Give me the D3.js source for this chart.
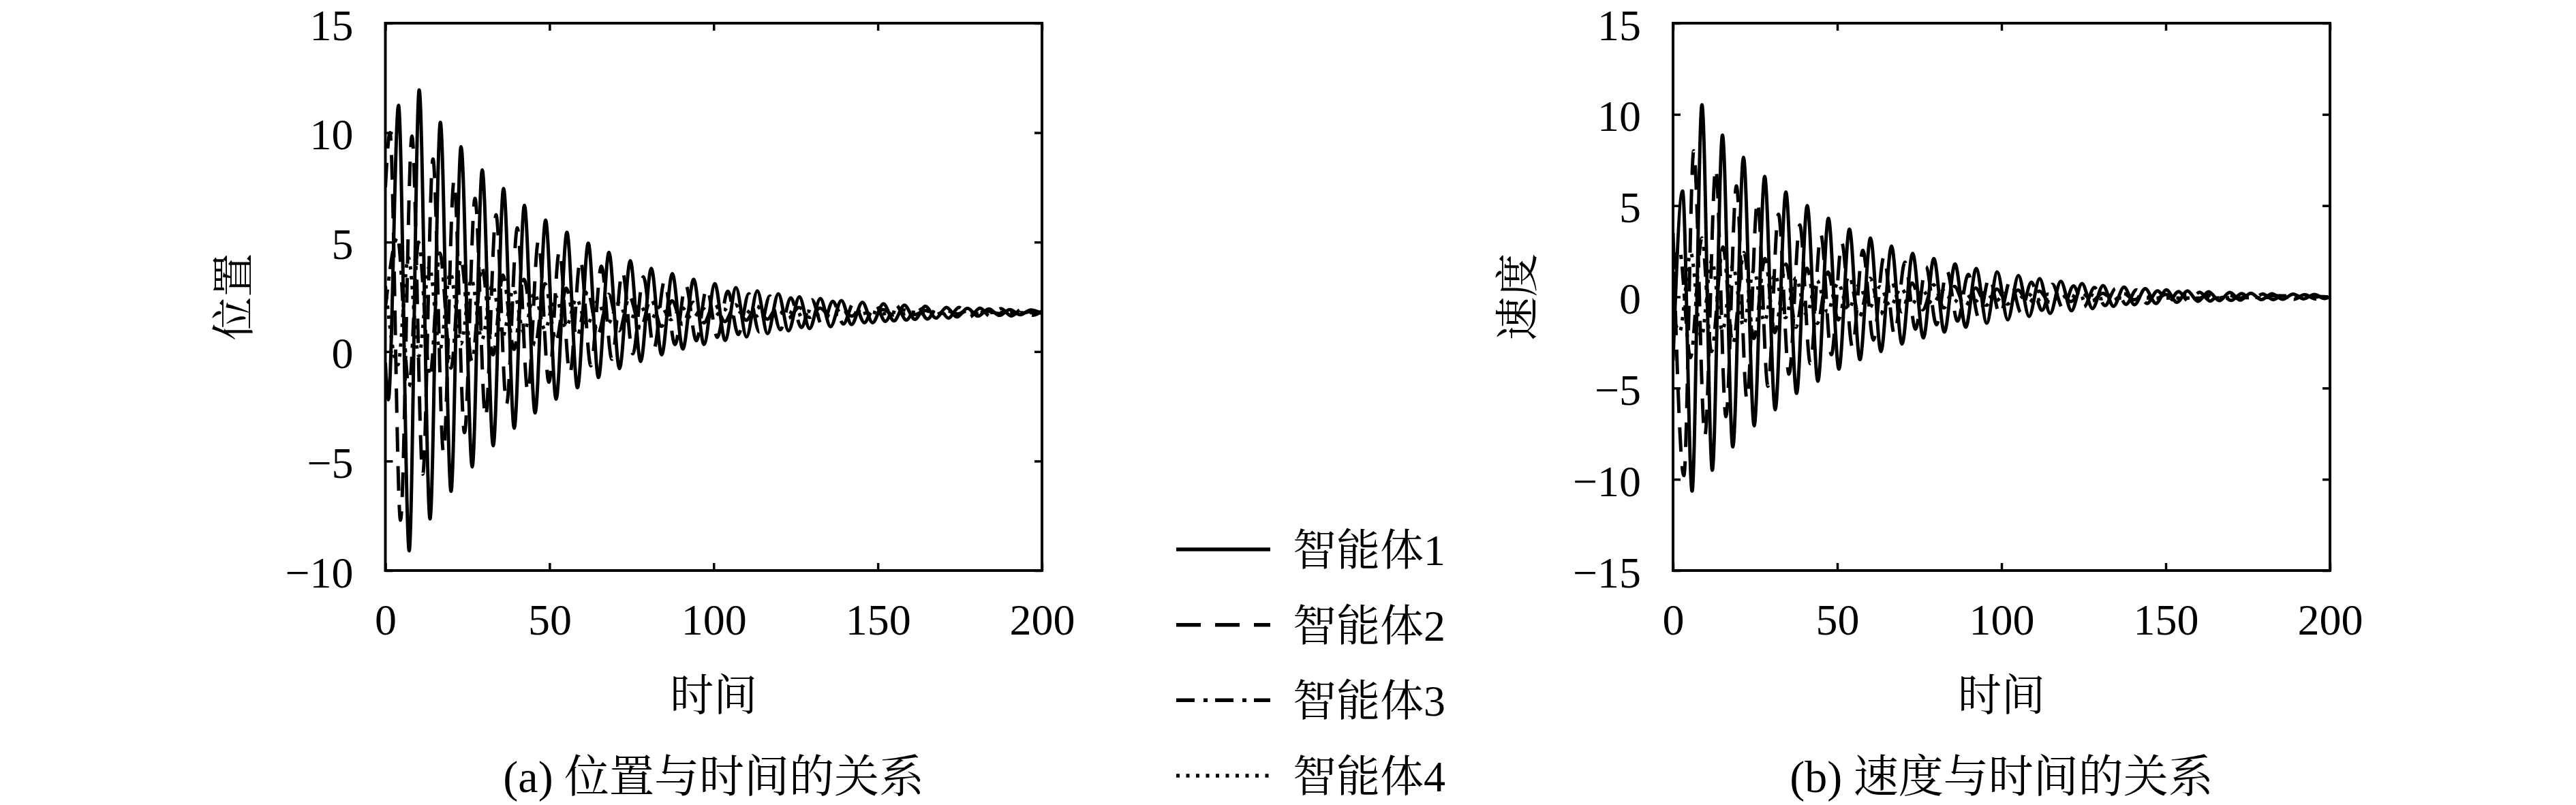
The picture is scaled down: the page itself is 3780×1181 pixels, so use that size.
<!DOCTYPE html>
<html><head><meta charset="utf-8">
<script src="https://cdn.jsdelivr.net/npm/d3@7"></script>
<style>
html,body{margin:0;padding:0;background:#fff;}
svg{display:block;}
</style></head>
<body><svg id="chart" width="3780" height="1181"></svg>
<script>
// ---------- data (extrema of each trace, [time, value]) ----------
const timeTicks = [0, 50, 100, 150, 200];
const posTicks = [-10, -5, 0, 5, 10, 15];
const velTicks = [-15, -10, -5, 0, 5, 10, 15];
const agentNames = ["智能体1", "智能体2", "智能体3", "智能体4"];

const pos1 = [[0,-0.5],[0.9,-2.2],[4.0,11.25],[7.25,-9.1],[10.3,11.95],[13.6,-7.64],[16.75,10.47],[20.0,-6.38],[23.05,9.36],[26.45,-5.27],[29.5,8.3],[32.85,-4.3],[36.0,7.45],[39.25,-3.5],[42.35,6.68],[45.6,-2.8],[48.8,6.0],[52.0,-2.17],[55.3,5.45],[58.5,-1.65],[61.8,4.95],[64.9,-1.18],[68.1,4.53],[71.3,-0.78],[74.6,4.15],[77.75,-0.45],[81.0,3.8],[84.15,-0.15],[87.4,3.56],[90.6,0.12],[93.9,3.3],[97.05,0.33],[100.35,3.1],[103.5,0.51],[106.8,2.92],[110.0,0.67],[113.3,2.77],[116.4,0.82],[119.7,2.64],[122.8,0.95],[126.1,2.5],[129.2,1.05],[132.5,2.42],[135.6,1.14],[138.9,2.33],[142.0,1.24],[145.3,2.25],[148.4,1.32],[151.7,2.18],[154.9,1.4],[158.1,2.12],[161.3,1.47],[164.5,2.07],[167.7,1.53],[170.9,2.02],[174.1,1.58],[177.3,1.98],[180.5,1.62],[183.8,1.95],[187.0,1.65],[190.2,1.92],[193.4,1.68],[196.6,1.9],[200,1.74]];
const pos2 = [[0,7.5],[1.4,10.0],[4.6,-7.7],[8.1,9.85],[11.4,-5.6],[14.5,8.8],[17.7,-4.6],[20.9,7.8],[24.1,-3.7],[27.3,7.0],[30.5,-3.0],[33.7,6.25],[36.9,-2.4],[40.2,5.65],[43.4,-1.85],[46.6,5.05],[49.8,-1.4],[53.0,4.6],[56.2,-1.0],[59.4,4.2],[62.6,-0.65],[65.8,3.9],[69.0,-0.35],[72.2,3.65],[75.4,-0.1],[78.6,3.42],[81.8,0.13],[85.0,3.22],[88.2,0.32],[91.5,3.04],[94.7,0.5],[97.9,2.9],[101.1,0.65],[104.3,2.76],[107.5,0.78],[110.7,2.64],[113.9,0.9],[117.1,2.54],[120.3,1.0],[123.5,2.45],[126.7,1.1],[129.9,2.37],[133.1,1.18],[136.3,2.3],[139.5,1.26],[142.7,2.24],[145.9,1.32],[149.1,2.18],[152.3,1.38],[155.5,2.13],[158.7,1.44],[161.9,2.09],[165.1,1.49],[168.3,2.05],[171.5,1.53],[174.7,2.02],[177.9,1.57],[181.1,1.99],[184.3,1.6],[187.5,1.96],[190.7,1.63],[193.9,1.94],[197.1,1.66],[200,1.85]];
const pos3 = [[0,2.0],[3.7,5.2],[7.2,-1.6],[10.1,5.0],[13.6,-1.1],[16.6,4.5],[20.0,-0.75],[23.0,4.2],[26.4,-0.45],[29.4,3.85],[32.8,-0.15],[35.8,3.5],[39.2,0.1],[42.2,3.3],[45.6,0.3],[48.6,3.1],[52.0,0.5],[55.1,2.9],[58.4,0.68],[61.6,2.75],[64.8,0.82],[68.0,2.62],[71.2,0.95],[74.4,2.5],[77.7,1.06],[80.9,2.4],[84.1,1.15],[87.3,2.32],[90.5,1.24],[93.7,2.25],[97.0,1.31],[100.2,2.19],[103.4,1.37],[106.6,2.14],[109.9,1.43],[113.1,2.09],[116.3,1.48],[119.5,2.05],[122.7,1.52],[126.0,2.02],[129.2,1.56],[132.4,1.99],[135.6,1.59],[138.8,1.96],[142.0,1.62],[145.2,1.94],[148.4,1.65],[151.6,1.92],[154.8,1.67],[158.0,1.9],[161.3,1.69],[164.5,1.88],[167.7,1.7],[170.9,1.87],[174.1,1.72],[177.3,1.85],[180.5,1.73],[183.7,1.84],[187.0,1.74],[190.2,1.83],[193.4,1.75],[196.6,1.82],[200,1.76]];
const pos4 = [[0,3.0],[3.8,-0.6],[7.0,4.3],[10.2,-0.2],[13.4,3.9],[16.6,0.1],[19.8,3.6],[23.0,0.35],[26.2,3.3],[29.4,0.55],[32.6,3.05],[35.8,0.72],[39.0,2.85],[42.2,0.87],[45.4,2.68],[48.6,1.0],[51.8,2.53],[55.0,1.1],[58.2,2.41],[61.4,1.2],[64.6,2.3],[67.8,1.28],[71.0,2.21],[74.2,1.35],[77.4,2.14],[80.6,1.41],[83.8,2.08],[87.0,1.46],[90.2,2.03],[93.4,1.5],[96.6,1.98],[99.8,1.54],[103.0,1.95],[106.2,1.57],[109.4,1.92],[112.6,1.6],[115.8,1.89],[119.0,1.63],[122.2,1.87],[125.4,1.65],[128.6,1.85],[131.8,1.67],[135.0,1.84],[138.2,1.69],[141.4,1.83],[144.6,1.7],[147.8,1.82],[151.0,1.71],[154.2,1.81],[157.4,1.72],[160.6,1.8],[163.8,1.73],[167.0,1.8],[170.2,1.74],[173.4,1.79],[200,1.77]];

const vel1 = [[0,-3.5],[2.9,5.8],[5.8,-10.65],[8.8,10.53],[11.95,-9.5],[15.05,8.86],[18.2,-8.23],[21.45,7.65],[24.7,-7.07],[27.9,6.6],[31.1,-6.18],[34.35,5.74],[37.6,-5.29],[40.85,5.0],[44.1,-4.62],[47.3,4.31],[50.5,-3.96],[53.7,3.71],[56.9,-3.44],[60.1,3.22],[63.3,-3.0],[66.5,2.78],[69.7,-2.59],[72.95,2.38],[76.2,-2.25],[79.4,2.1],[82.6,-1.93],[85.85,1.8],[89.1,-1.66],[92.3,1.55],[95.5,-1.44],[98.7,1.36],[101.9,-1.26],[105.15,1.17],[108.4,-1.07],[111.6,1.0],[114.8,-0.91],[118.05,0.85],[121.3,-0.76],[124.5,0.73],[127.7,-0.64],[130.9,0.62],[134.1,-0.52],[137.3,0.53],[140.5,-0.43],[143.75,0.45],[147.0,-0.36],[150.2,0.38],[153.4,-0.3],[156.6,0.33],[159.8,-0.25],[163.05,0.28],[166.3,-0.21],[169.5,0.24],[172.7,-0.18],[175.9,0.2],[179.1,-0.15],[182.35,0.17],[185.6,-0.13],[188.8,0.15],[192.0,-0.11],[195.2,0.13],[198.4,-0.09],[200,0.0]];
const vel2 = [[0,3.5],[3.3,-9.8],[6.3,8.0],[9.7,-7.6],[13.0,7.05],[16.1,-6.57],[19.3,6.08],[22.5,-5.63],[25.7,5.24],[28.9,-4.9],[32.1,4.53],[35.3,-4.24],[38.6,3.94],[41.8,-3.66],[45.0,3.41],[48.2,-3.17],[51.4,2.95],[54.6,-2.74],[57.8,2.55],[61.0,-2.37],[64.2,2.2],[67.4,-2.05],[70.6,1.91],[73.8,-1.77],[77.0,1.65],[80.2,-1.53],[83.4,1.43],[86.6,-1.33],[89.9,1.23],[93.1,-1.15],[96.3,1.07],[99.5,-0.99],[102.7,0.92],[105.9,-0.86],[109.1,0.8],[112.3,-0.74],[115.5,0.69],[118.7,-0.64],[121.9,0.6],[125.1,-0.55],[128.3,0.51],[131.5,-0.48],[134.7,0.45],[137.9,-0.41],[141.1,0.38],[144.3,-0.36],[147.5,0.33],[150.7,-0.31],[153.9,0.29],[157.1,-0.27],[160.3,0.25],[163.5,-0.23],[166.7,0.21],[169.9,-0.2],[173.1,0.18],[176.3,-0.17],[179.5,0.16],[182.7,-0.15],[185.9,0.14],[189.1,-0.13],[192.3,0.12],[195.5,-0.11],[198.7,0.1],[200,0.02]];
const vel3 = [[0,1.5],[1.9,2.6],[5.3,-3.33],[8.8,3.23],[11.7,-3.0],[15.2,2.74],[18.2,-2.57],[21.6,2.43],[24.6,-2.28],[28.0,2.1],[31.0,-1.96],[34.4,1.79],[37.4,-1.67],[40.8,1.57],[43.9,-1.46],[47.2,1.36],[50.3,-1.26],[53.6,1.17],[56.7,-1.09],[60.0,1.02],[63.2,-0.95],[66.4,0.88],[69.6,-0.82],[72.8,0.76],[76.0,-0.71],[79.3,0.66],[82.5,-0.61],[85.7,0.57],[88.9,-0.53],[92.1,0.49],[95.4,-0.46],[98.6,0.43],[101.8,-0.4],[105.0,0.37],[108.2,-0.34],[111.5,0.32],[114.7,-0.3],[117.9,0.28],[121.1,-0.26],[124.3,0.24],[127.6,-0.22],[130.8,0.2],[134.0,-0.19],[137.2,0.18],[140.4,-0.16],[143.6,0.15],[146.8,-0.14],[150.0,0.13],[153.2,-0.12],[156.4,0.11],[159.6,-0.1],[162.8,0.09],[166.0,-0.08],[169.2,0.08],[172.4,-0.07],[175.6,0.07],[178.8,-0.06],[182.0,0.06],[200,0.0]];
const vel4 = [[0,-1.0],[2.0,-1.9],[5.4,2.4],[8.6,-2.2],[11.8,2.0],[15.0,-1.86],[18.2,1.72],[21.4,-1.59],[24.6,1.45],[27.8,-1.35],[31.0,1.23],[34.2,-1.14],[37.4,1.04],[40.6,-0.97],[43.8,0.9],[47.0,-0.83],[50.2,0.76],[53.4,-0.7],[56.6,0.65],[59.8,-0.6],[63.0,0.55],[66.2,-0.51],[69.4,0.47],[72.6,-0.43],[75.8,0.4],[79.0,-0.37],[82.2,0.34],[85.4,-0.31],[88.6,0.29],[91.8,-0.27],[95.0,0.25],[98.2,-0.23],[101.4,0.21],[104.6,-0.19],[107.8,0.18],[111.0,-0.16],[114.2,0.15],[117.4,-0.14],[120.6,0.13],[123.8,-0.12],[127.0,0.11],[130.2,-0.1],[133.4,0.09],[136.6,-0.08],[139.8,0.08],[143.0,-0.07],[200,0.0]];

const posSeries = [pos1, pos2, pos3, pos4];
const velSeries = [vel1, vel2, vel3, vel4];

// ---------- drawing ----------
const svg = d3.select("#chart");
const FONT = "'Liberation Serif', 'Noto Serif CJK SC', 'Noto Sans CJK SC', serif";
const dashes = [null, "36,21", "27,13,6,11", "5,9.5"];
const LW = 5;

const panels = [
  {id:"a", left:565.5, right:1529, top:34, bottom:837, yDomain:[-10,15], yTicks:posTicks,
   series:posSeries, ylabel:"位置", ylabelX:343, caption:"(a) 位置与时间的关系"},
  {id:"b", left:2455, right:3419, top:34, bottom:837, yDomain:[-15,15], yTicks:velTicks,
   series:velSeries, ylabel:"速度", ylabelX:2227, caption:"(b) 速度与时间的关系"}
];

panels.forEach(p => {
  const x = d3.scaleLinear().domain([0, 200]).range([p.left, p.right]);
  const y = d3.scaleLinear().domain(p.yDomain).range([p.bottom, p.top]);
  const g = svg.append("g");

  g.append("clipPath").attr("id", "clip-" + p.id)
    .append("rect").attr("x", p.left).attr("y", p.top)
    .attr("width", p.right - p.left).attr("height", p.bottom - p.top);

  const line = d3.line().x(d => x(d[0])).y(d => y(d[1])).curve(d3.curveMonotoneX);
  const lg = g.append("g").attr("clip-path", `url(#clip-${p.id})`);
  p.series.forEach((s, i) => {
    lg.append("path").attr("d", line(s))
      .attr("fill", "none").attr("stroke", "#000").attr("stroke-width", LW)
      .attr("stroke-linejoin", "round")
      .attr("stroke-dasharray", dashes[i]);
  });

  const T = 11;
  const styleAxis = sel => {
    sel.select(".domain").remove();
    sel.selectAll(".tick line").attr("stroke", "#000").attr("stroke-width", 3.5);
    sel.selectAll("text").attr("font-family", FONT).attr("font-size", 64).attr("fill", "#000");
  };
  const gb = g.append("g").attr("transform", `translate(0,${p.bottom})`)
    .call(d3.axisBottom(x).tickValues(timeTicks).tickSize(-T).tickPadding(0)).call(styleAxis);
  gb.selectAll("text").attr("y", 94).attr("dy", null);
  g.append("g").attr("transform", `translate(0,${p.top})`)
    .call(d3.axisTop(x).tickValues(timeTicks).tickSize(-T).tickFormat("")).call(styleAxis);
  const gl = g.append("g").attr("transform", `translate(${p.left},0)`)
    .call(d3.axisLeft(y).tickValues(p.yTicks).tickSize(-T).tickPadding(0)).call(styleAxis);
  gl.selectAll("text").attr("x", -47).attr("dy", null).attr("y", 24);
  g.append("g").attr("transform", `translate(${p.right},0)`)
    .call(d3.axisRight(y).tickValues(p.yTicks).tickSize(-T).tickFormat("")).call(styleAxis);

  g.append("rect").attr("x", p.left).attr("y", p.top)
    .attr("width", p.right - p.left).attr("height", p.bottom - p.top)
    .attr("fill", "none").attr("stroke", "#000").attr("stroke-width", 4);

  const cx = (p.left + p.right) / 2;
  g.append("text").attr("x", cx).attr("y", 1042).attr("text-anchor", "middle")
    .attr("font-family", FONT).attr("font-size", 64).text("时间");
  g.append("text").attr("transform", `translate(${p.ylabelX},${(p.top + p.bottom) / 2}) rotate(-90)`)
    .attr("text-anchor", "middle").attr("dominant-baseline", "central")
    .attr("font-family", FONT).attr("font-size", 64).text(p.ylabel);
  g.append("text").attr("x", cx).attr("y", 1162).attr("text-anchor", "middle")
    .attr("font-family", FONT).attr("font-size", 66).text(p.caption);
});

// ---------- legend ----------
const ly = d3.scalePoint().domain(agentNames).range([806, 1138]);
const leg = svg.append("g");
agentNames.forEach((name, i) => {
  leg.append("line").attr("x1", 1726).attr("x2", 1864)
    .attr("y1", ly(name)).attr("y2", ly(name))
    .attr("stroke", "#000").attr("stroke-width", 5.5)
    .attr("stroke-dasharray", dashes[i]);
  leg.append("text").attr("x", 1897).attr("y", ly(name) + 23)
    .attr("font-family", FONT).attr("font-size", 64).text(name);
});
</script></body></html>
